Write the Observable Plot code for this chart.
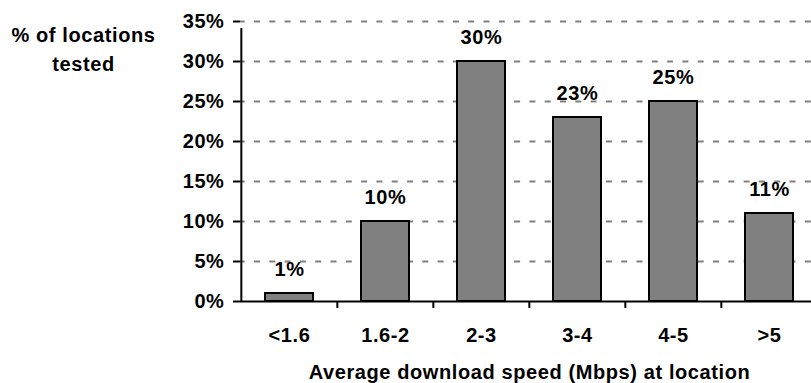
<!DOCTYPE html>
<html>
<head>
<meta charset="utf-8">
<script src="https://cdn.jsdelivr.net/npm/d3@7"></script>
<script src="https://cdn.jsdelivr.net/npm/@observablehq/plot@0.6"></script>
<style>
  html, body { margin: 0; padding: 0; background: #fff; }
  svg text { letter-spacing: 0.6px; }
</style>
</head>
<body>
<div id="chart"></div>
<script>
const categories = ["<1.6", "1.6-2", "2-3", "3-4", "4-5", ">5"];
const values = [1, 10, 30, 23, 25, 11];
const yTicks = [0, 5, 10, 15, 20, 25, 30, 35];
const yTitle = "% of locations\ntested";
const xTitle = "Average download speed (Mbps) at location";

const data = categories.map((c, i) => ({cat: c, v: values[i]}));

const W = 811, H = 383;
const xRange = [240, 818];
const step = (xRange[1] - xRange[0]) / categories.length;
const font = "'Liberation Sans', Arial, Helvetica, sans-serif";
const FS = 20;

const chart = Plot.plot({
  width: W,
  height: H,
  marginTop: 21,
  marginBottom: 82,
  marginLeft: 240,
  marginRight: 0,
  style: {fontFamily: font, fontWeight: "bold", fontSize: FS + "px", color: "#000", background: "#fff", overflow: "visible"},
  x: {domain: categories, range: xRange, paddingInner: 0.5, paddingOuter: 0.25, axis: null},
  y: {domain: [0, 35], axis: null},
  marks: [
    // dashed gridlines
    Plot.ruleY(yTicks.filter(t => t > 0), {stroke: "#808080", strokeWidth: 2, strokeDasharray: "6,9.3", strokeDashoffset: 1.3}),
    // bars
    Plot.barY(data, {x: "cat", y: "v", fill: "#808080", stroke: "#000", strokeWidth: 2}),
    // value labels
    Plot.text(data, {x: "cat", y: "v", text: d => d.v + "%", dy: -23.5, lineAnchor: "middle", fontSize: FS, fontWeight: "bold", fill: "#000"}),
    // x axis baseline
    Plot.ruleY([0], {stroke: "#000", strokeWidth: 2}),
    // category boundary ticks
    Plot.ruleX(categories.slice(1), {x: d => d, dx: -step / 2, y1: 0, y2: 0, insetBottom: -7, stroke: "#000", strokeWidth: 2}),
    // y axis line
    Plot.ruleX(categories.slice(0, 1), {x: d => d, dx: -step / 2, y1: 0, y2: 35, insetBottom: -7, stroke: "#000", strokeWidth: 2}),
    // y axis ticks and labels
    Plot.axisY({ticks: yTicks, tickFormat: d => d + "%", tickSize: 7, tickPadding: 9, strokeWidth: 2, fontSize: FS, fontWeight: "bold", label: null}),
    // x tick labels
    Plot.axisX({tickSize: 0, tickPadding: 26, fontSize: FS, fontWeight: "bold", label: null}),
    // x title
    Plot.text([xTitle], {frameAnchor: "bottom", dx: (xRange[1] - W) / 2, dy: 71, lineAnchor: "middle", fontSize: FS, fontWeight: "bold", fill: "#000"}),
    // y title
    Plot.text([yTitle], {frameAnchor: "top-left", dx: -157, dy: 26, textAnchor: "middle", lineAnchor: "middle", lineHeight: 1.45, fontSize: FS, fontWeight: "bold", fill: "#000"})
  ]
});
document.getElementById("chart").appendChild(chart);
</script>
</body>
</html>
